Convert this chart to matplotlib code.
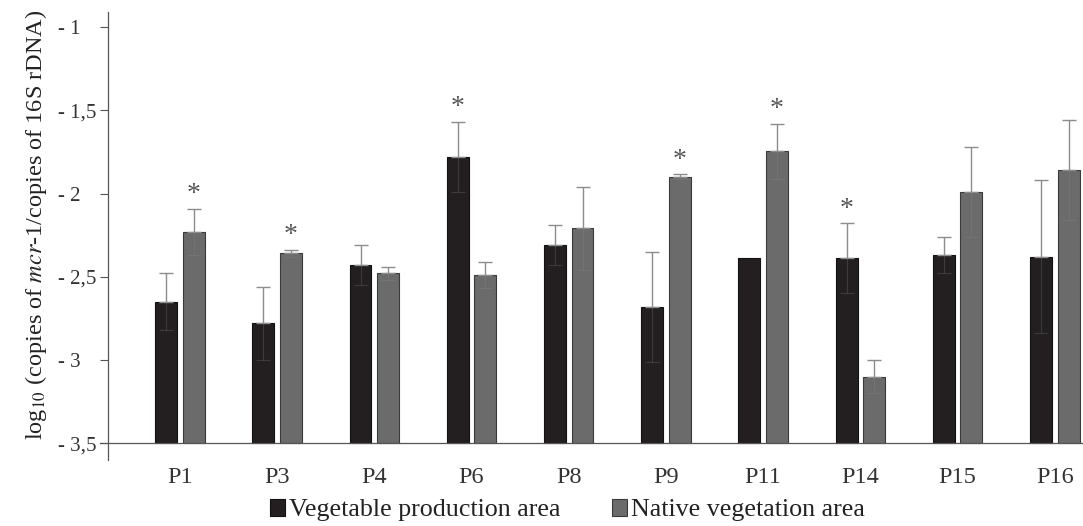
import numpy as np
import matplotlib
matplotlib.use("Agg")
import matplotlib.pyplot as plt

plt.rcParams['font.family'] = ['Liberation Serif', 'DejaVu Serif']
plt.rcParams['mathtext.fontset'] = 'stix'

sites = ["P1", "P3", "P4", "P6", "P8", "P9", "P11", "P14", "P15", "P16"]

# log10 mcr-1 / 16S rDNA, mean and SD
veg = [-2.65, -2.78, -2.43, -1.78, -2.31, -2.68, -2.39, -2.39, -2.37, -2.38]
veg_sd = [0.17, 0.22, 0.12, 0.21, 0.12, 0.33, 0.0, 0.21, 0.11, 0.46]
nat = [-2.23, -2.36, -2.48, -2.49, -2.21, -1.90, -1.745, -3.10, -1.99, -1.86]
nat_sd = [0.14, 0.02, 0.04, 0.08, 0.25, 0.015, 0.165, 0.10, 0.27, 0.30]

# significance marks: (site index, series)
stars = [(0, "nat"), (1, "nat"), (3, "veg"), (5, "nat"), (6, "nat"), (7, "veg")]

base = -3.5
x = np.arange(len(sites))
w = 0.225
off = 0.142

veg = np.array(veg); nat = np.array(nat)
veg_sd = np.array(veg_sd); nat_sd = np.array(nat_sd)

fig = plt.figure(figsize=(10.83, 5.26), dpi=100)
ax = fig.add_axes([0.0997, 0.1255, 0.9003, 0.8517])

ax.bar(x - off, veg - base, w, bottom=base, color="#231f20", edgecolor="#111111",
       lw=0.8, label="Vegetable production area", zorder=2)
ax.bar(x + off, nat - base, w, bottom=base, color="#6b6b6b", edgecolor="#3a3a3a",
       lw=0.8, label="Native vegetation area", zorder=2)

for xs, m, sd in [(x - off, veg, veg_sd), (x + off, nat, nat_sd)]:
    keep = sd > 0
    # upper half of the error bars
    ax.errorbar(xs[keep], m[keep], yerr=[np.zeros(keep.sum()), sd[keep]], fmt="none",
                ecolor="#8c8c8c", elinewidth=1.0, capsize=5, capthick=1.0, zorder=3)
    # lower half, faint inside the bars
    ax.errorbar(xs[keep], m[keep], yerr=[sd[keep], np.zeros(keep.sum())], fmt="none",
                ecolor="#8c8c8c", elinewidth=0.8, capsize=5, capthick=0.8,
                alpha=0.25, zorder=3)

for i, s in stars:
    if s == "veg":
        xp, yp = x[i] - off, veg[i] + veg_sd[i]
    else:
        xp, yp = x[i] + off, nat[i] + nat_sd[i]
    ax.text(xp, yp + 0.01, "*", ha="center", va="bottom", fontsize=20,
            color="#555555")

ax.set_xlim(-0.74, 9.29)
ax.set_ylim(-3.6, -0.91)
ax.set_yticks([-1, -1.5, -2, -2.5, -3, -3.5])
ax.set_yticklabels(["- 1", "- 1,5", "- 2", "- 2,5", "- 3", "- 3,5"], fontsize=15,
                   color="#333333", ha="left")
ax.set_xticks(x)
ax.set_xticklabels(sites, fontsize=17.5, color="#333333")
ax.tick_params(axis="x", length=0, pad=5)
ax.tick_params(axis="y", length=6, width=0.8, color="#555555", pad=30)

for sp in ["top", "right", "bottom"]:
    ax.spines[sp].set_visible(False)
ax.spines["left"].set_color("#555555")
ax.spines["left"].set_linewidth(0.9)
ax.axhline(base, xmin=-0.008, xmax=1, color="#555555", lw=0.9, clip_on=False, zorder=4)

ax.set_ylabel("log$_{10}$ (copies of $\\mathit{mcr}$-1/copies of 16S rDNA)", fontsize=17.5,
              color="#222222")
ax.yaxis.set_label_coords(-0.06, 0.525)

fig.legend(*ax.get_legend_handles_labels(), loc="center", bbox_to_anchor=(0.524, 0.03),
           ncol=2, frameon=False, fontsize=18.7, handlelength=0.58, handleheight=0.6,
           handletextpad=0.15, columnspacing=2.0, labelcolor="#222222")

plt.savefig("out.png", dpi=100)
